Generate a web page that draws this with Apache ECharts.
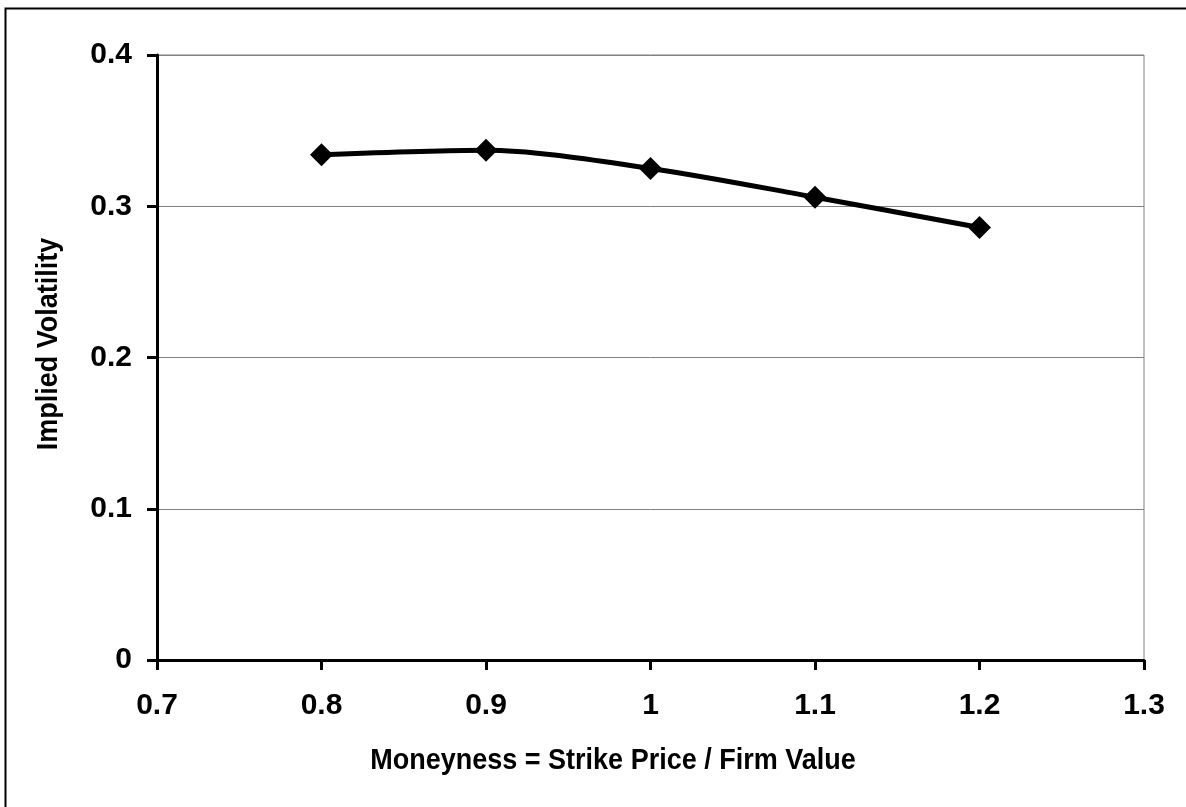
<!DOCTYPE html>
<html>
<head>
<meta charset="utf-8">
<script src="https://cdn.jsdelivr.net/npm/echarts@6/dist/echarts.min.js"></script>
<style>
  html, body { margin: 0; padding: 0; background: #fff; }
  #chart { width: 1186px; height: 807px; }
</style>
</head>
<body>
<div id="chart"></div>
<script>
// datos
const moneyness = [0.8, 0.9, 1.0, 1.1, 1.2];
const impliedVol = [0.334, 0.337, 0.325, 0.306, 0.286];
const xTicks = [0.7, 0.8, 0.9, 1.0, 1.1, 1.2, 1.3];
const yTicks = [0, 0.1, 0.2, 0.3, 0.4];

const xTitle = 'Moneyness = Strike Price / Firm Value';
const yTitle = 'Implied Volatility';

const fuente = 'Arial, "Liberation Sans", sans-serif';

const chart = echarts.init(document.getElementById('chart'));

const option = {
    animation: false,
    backgroundColor: '#fff',
    grid: {
        left: 157, top: 55, right: 42, bottom: 147,
        show: true, borderColor: '#808080', borderWidth: 1, backgroundColor: 'transparent'
    },
    xAxis: {
        type: 'value',
        min: xTicks[0], max: xTicks[xTicks.length - 1], interval: 0.1,
        axisLine: { show: true, onZero: false, lineStyle: { color: '#000', width: 3 } },
        axisTick: { show: true, length: 10, lineStyle: { color: '#000', width: 3 } },
        axisLabel: {
            margin: 31, color: '#000', fontFamily: fuente, fontWeight: 'bold', fontSize: 30,
            formatter: v => String(parseFloat(v.toFixed(1)))
        },
        splitLine: { show: false }
    },
    yAxis: {
        type: 'value',
        min: yTicks[0], max: yTicks[yTicks.length - 1], interval: 0.1,
        axisLine: { show: true, lineStyle: { color: '#000', width: 3 } },
        axisTick: { show: true, length: 10, lineStyle: { color: '#000', width: 3 } },
        axisLabel: {
            margin: 25, color: '#000', fontFamily: fuente, fontWeight: 'bold', fontSize: 30,
            formatter: v => String(parseFloat(v.toFixed(1)))
        },
        splitLine: { show: true, lineStyle: { color: '#808080', width: 1 } }
    },
    graphic: [
        {
            type: 'rect', silent: true, z: -1,
            shape: { x: 5.5, y: 8.5, width: 1200, height: 820 },
            style: { fill: 'none', stroke: '#000', lineWidth: 2 }
        },
        {
            type: 'text', x: 613, y: 761, scaleY: 1.1,
            style: {
                text: xTitle, font: 'bold 27px ' + fuente, fill: '#000',
                textAlign: 'center', textVerticalAlign: 'middle'
            }
        },
        {
            type: 'text', x: 49, y: 344, rotation: Math.PI / 2, scaleY: 1.1,
            style: {
                text: yTitle, font: 'bold 27px ' + fuente, fill: '#000',
                textAlign: 'center', textVerticalAlign: 'middle'
            }
        }
    ],
    series: [{
        type: 'line',
        data: moneyness.map((m, i) => [m, impliedVol[i]]),
        smooth: 0.3,
        symbol: 'diamond',
        symbolSize: 23,
        itemStyle: { color: '#000' },
        lineStyle: { color: '#000', width: 5 }
    }]
};

chart.setOption(option);
</script>
</body>
</html>
